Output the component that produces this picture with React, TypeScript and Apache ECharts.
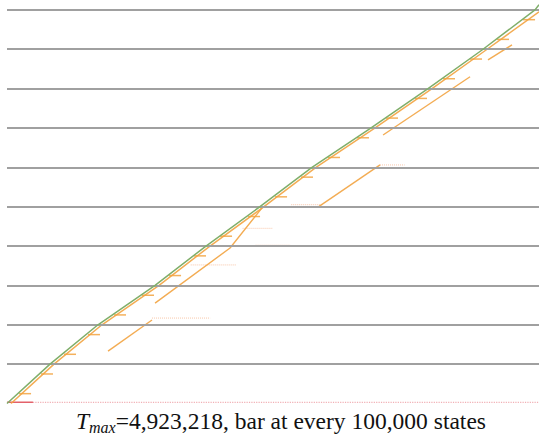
import React, { useEffect, useRef } from "react";
import * as echarts from "echarts";

// x: time (units of 10,000 steps, T_max = 4,923,218), y: states (units of 100,000)
const barLevels = [1, 2, 3, 4, 5, 6, 7, 8, 9, 10];

const mainT = [0, 39.8, 84.2, 137.0, 183.2, 234.1, 282.2, 335.9, 389.6, 439.6, 488.6, 492.3];
const mainS = [0, 1.0, 2.0, 3.0, 3.98, 5.0, 6.0, 6.98, 8.0, 8.98, 10.0, 10.13];

const bandT = [3.7, 43.5, 87.9, 140.7, 186.9, 237.8, 285.9, 339.6, 393.3, 443.3, 492.3];
const bandS = [0, 1.0, 2.0, 3.0, 3.98, 5.0, 6.0, 6.98, 8.0, 8.98, 9.95];

const stepT = [16.7, 37.0, 58.3, 80.5, 104.6, 130.5, 155.5, 178.6, 202.7, 228.6, 253.6, 277.6, 302.6, 329.4, 356.3, 383.1, 409.0, 434.0, 459.0, 483.1];
const stepS = [0.25, 0.75, 1.25, 1.75, 2.25, 2.75, 3.25, 3.75, 4.25, 4.75, 5.25, 5.75, 6.25, 6.75, 7.25, 7.75, 8.25, 8.75, 9.25, 9.75];

const branchA_T = [93.5, 134.2];
const branchA_S = [1.33, 2.12];
const branchB_T = [137.0, 206.4, 236.0];
const branchB_S = [2.55, 3.95, 4.97];
const branchC_T = [287.8, 345.2];
const branchC_S = [4.99, 6.06];
const branchD_T = [348.0, 428.5];
const branchD_S = [6.82, 8.3];
const branchE_T = [445.1, 467.3];
const branchE_S = [8.73, 9.11];

const trailStartT = [134.2, 170.0, 218.0, 263.0, 345.2, 230.0];
const trailEndT = [188.0, 212.0, 246.0, 292.0, 368.0, 262.0];
const trailS = [2.17, 3.52, 4.45, 5.05, 6.06, 4.02];

const floorStartT = [0, 24];
const floorEndT = [24, 492.3];

const GREEN = "#7fae6a";
const ORANGE = "#f2a340";
const RED = "#e0505a";
const SERIF = "Liberation Serif";

function zip(a: number[], b: number[]) {
  return a.map((v, i) => [v, b[i]]);
}

export default function App() {
  const ref = useRef<HTMLDivElement>(null);
  useEffect(() => {
    if (!ref.current) return;
    const chart = echarts.init(ref.current, undefined, { renderer: "svg" });
    const branchLine = (name: string, t: number[], s: number[]) => ({
      name,
      type: "line",
      data: zip(t, s),
      showSymbol: false,
      lineStyle: { color: ORANGE, width: 1.4, opacity: 0.9 },
      z: 3,
    });
    const trails = trailStartT.map((t0, i) => ({
      name: "trail" + i,
      type: "line",
      data: [[t0, trailS[i]], [trailEndT[i], trailS[i]]],
      showSymbol: false,
      lineStyle: { color: "#f4a070", width: 1, type: "dotted", opacity: 0.6 },
      z: 2,
    }));
    const floors = floorStartT.map((t0, i) => ({
      name: "floor" + i,
      type: "line",
      data: [[t0, 0.03], [floorEndT[i], 0.03]],
      showSymbol: false,
      lineStyle: { color: RED, width: i === 0 ? 1.6 : 1.2, type: i === 0 ? "solid" : "dotted", opacity: i === 0 ? 0.9 : 0.45 },
      z: 2,
    }));
    chart.setOption({
      animation: false,
      grid: { left: 7, right: 0, top: 0, bottom: 35.5 },
      xAxis: { type: "value", min: 0, max: 492.3, show: false },
      yAxis: { type: "value", min: 0, max: 10.25, show: false },
      title: {
        text: "{t|T}{s|max}{n|=4,923,218, bar at every 100,000 states}",
        left: 76,
        top: 407,
        padding: 0,
        textStyle: {
          fontFamily: SERIF,
          fontWeight: "normal",
          fontSize: 23.5,
          rich: {
            t: { fontFamily: SERIF, fontWeight: "normal", fontStyle: "italic", fontSize: 23.5, color: "#111", lineHeight: 28, verticalAlign: "middle" },
            s: { fontFamily: SERIF, fontWeight: "normal", fontStyle: "italic", fontSize: 16, color: "#111", lineHeight: 15, verticalAlign: "bottom" },
            n: { fontFamily: SERIF, fontWeight: "normal", fontSize: 23.5, color: "#111", lineHeight: 28, verticalAlign: "middle" },
          },
        },
      },
      series: [
        {
          name: "bars",
          type: "line",
          data: [],
          markLine: {
            silent: true,
            symbol: "none",
            label: { show: false },
            lineStyle: { color: "#a0a0a0", width: 2, type: "solid" },
            data: barLevels.map((v) => ({ yAxis: v })),
          },
          z: 1,
        },
        ...floors,
        ...trails,
        branchLine("branchA", branchA_T, branchA_S),
        branchLine("branchB", branchB_T, branchB_S),
        branchLine("branchC", branchC_T, branchC_S),
        branchLine("branchD", branchD_T, branchD_S),
        branchLine("branchE", branchE_T, branchE_S),
        {
          name: "steps",
          type: "scatter",
          data: zip(stepT, stepS),
          symbol: "rect",
          symbolSize: [12, 1.5],
          itemStyle: { color: ORANGE, opacity: 0.85 },
          z: 3,
        },
        {
          name: "band",
          type: "line",
          data: zip(bandT, bandS),
          showSymbol: false,
          lineStyle: { color: ORANGE, width: 1.5, opacity: 0.9 },
          z: 4,
        },
        {
          name: "main",
          type: "line",
          data: zip(mainT, mainS),
          showSymbol: false,
          lineStyle: { color: GREEN, width: 1.5 },
          z: 5,
        },
      ],
    });
    return () => chart.dispose();
  }, []);
  return <div ref={ref} style={{ width: 539, height: 439, position: "absolute", left: 0, top: 0 }} />;
}
